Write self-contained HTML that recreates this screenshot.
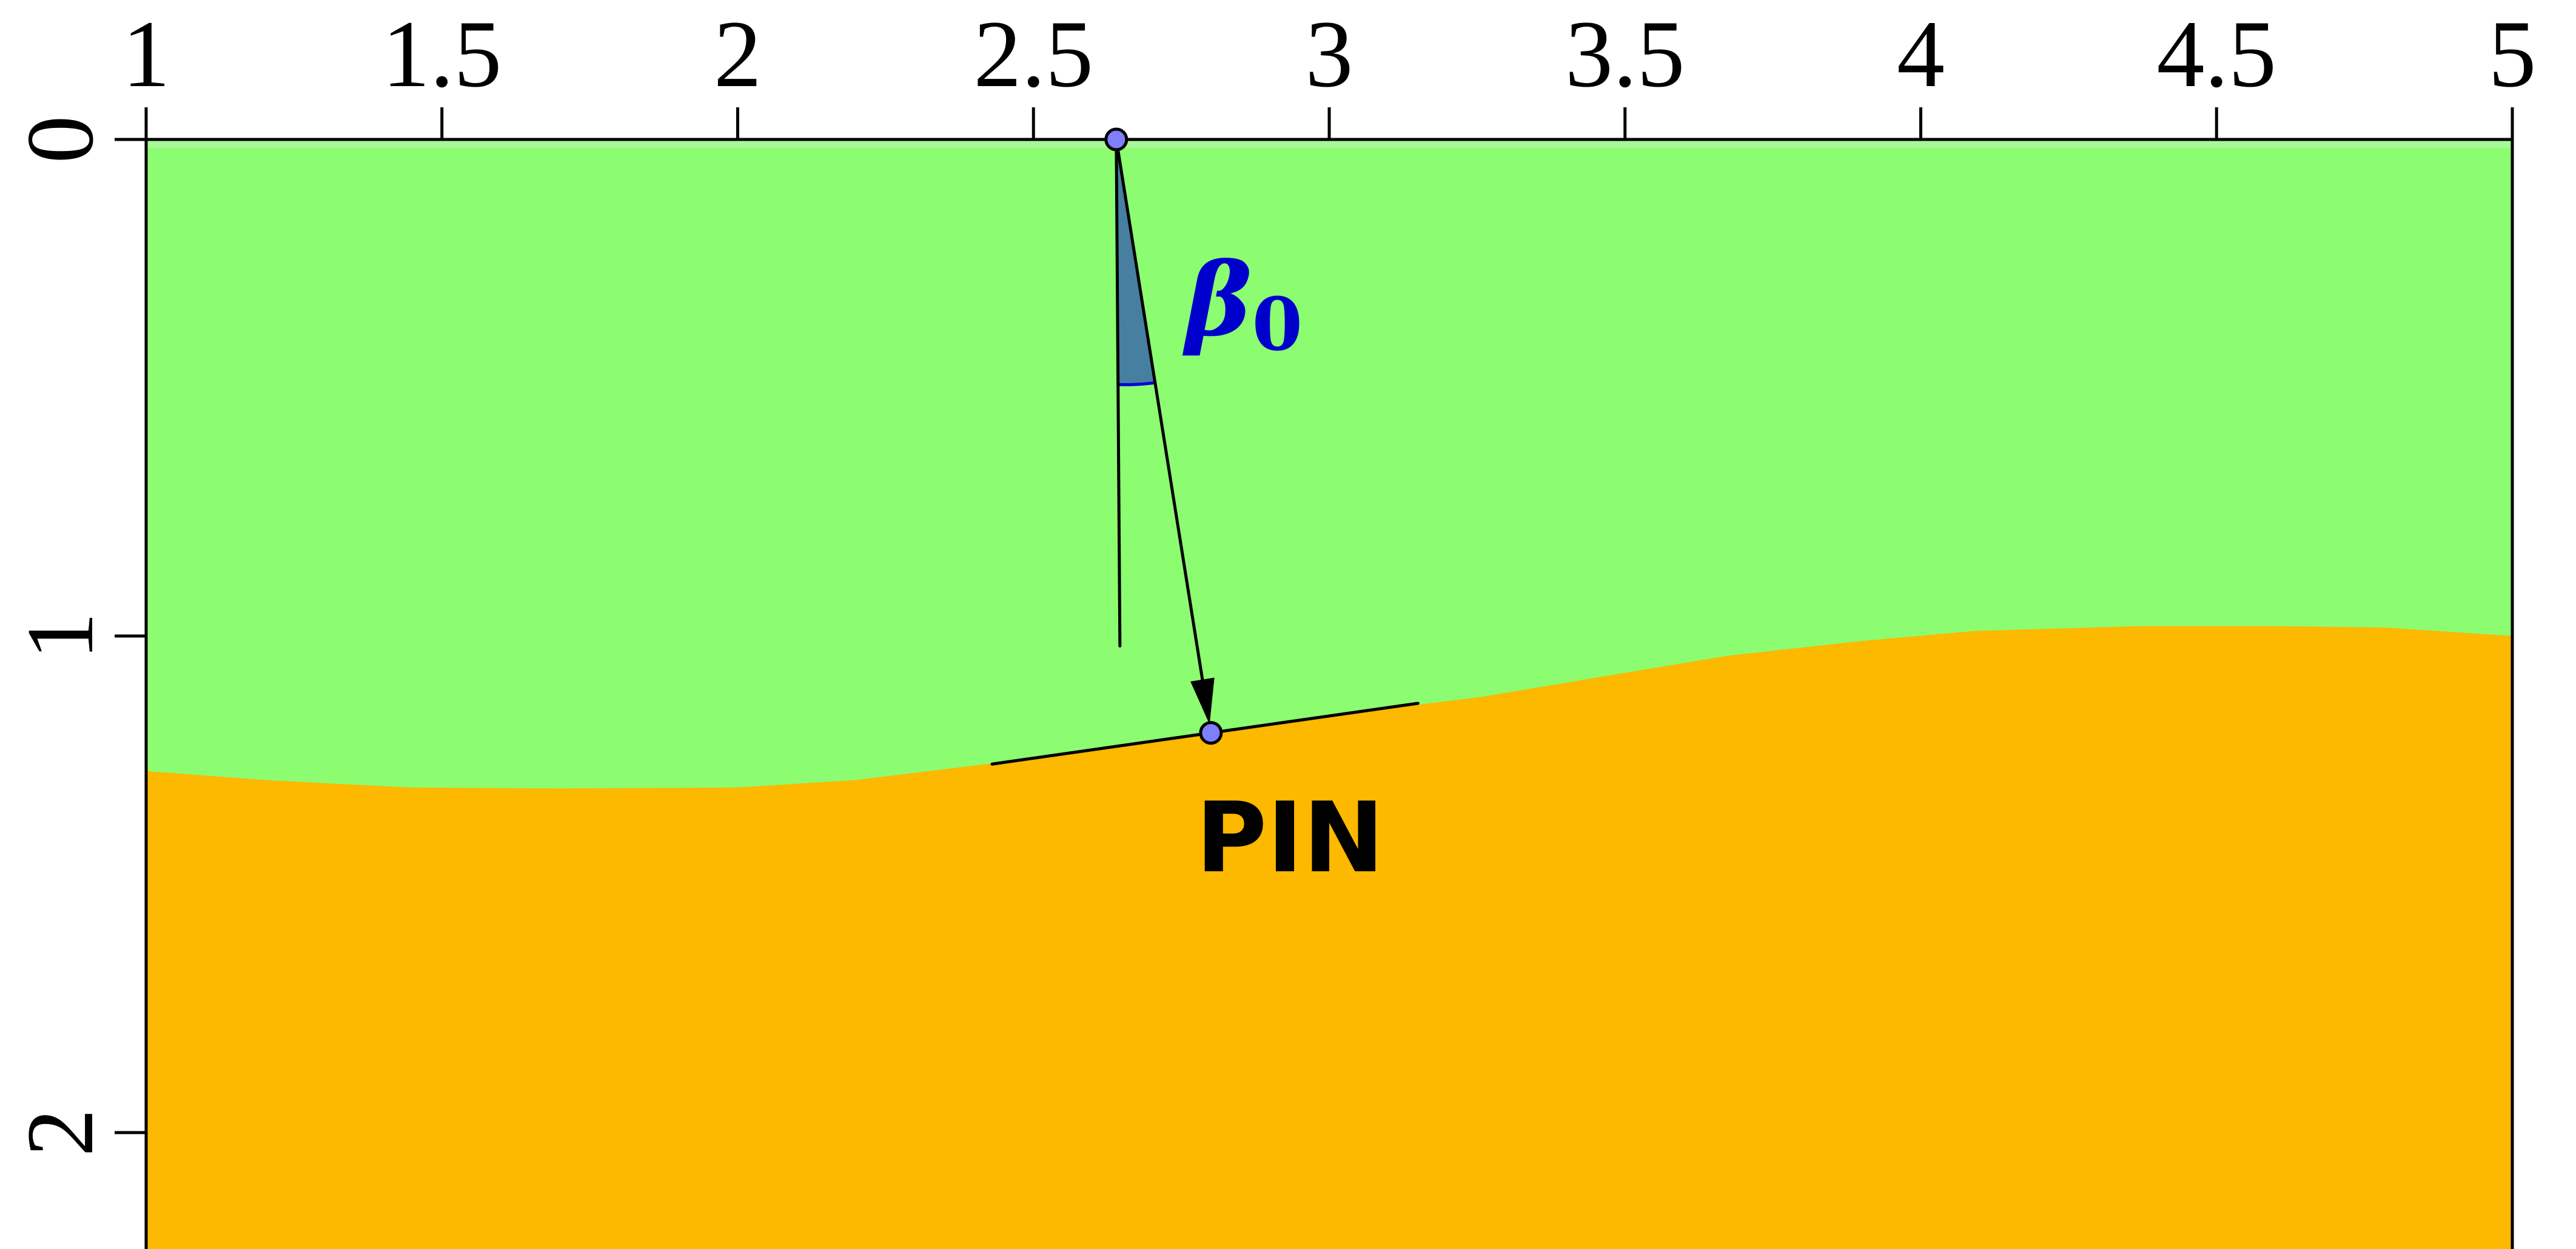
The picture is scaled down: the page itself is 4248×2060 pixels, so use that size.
<!DOCTYPE html>
<html><head><meta charset="utf-8"><style>html,body{margin:0;padding:0;background:#fff;}svg{display:block}</style></head>
<body>
<svg id="chart" xmlns="http://www.w3.org/2000/svg" width="4248" height="2060" viewBox="0 0 4248 2060">
<g id="layers"></g>
<g id="axes"></g>
<g id="marks"></g>
</svg>
<script>
const xTicks = [1, 1.5, 2, 2.5, 3, 3.5, 4, 4.5, 5];
const xTickLabels = ["1", "1.5", "2", "2.5", "3", "3.5", "4", "4.5", "5"];
const yTicks = [0, 1, 2];
const yTickLabels = ["0", "1", "2"];
const boundaryX = [1, 1.2, 1.445, 1.7, 2.0, 2.2, 2.42, 2.6, 2.81, 3.0, 3.255, 3.47, 3.672, 3.9, 4.09, 4.37, 4.6, 4.786, 5];
const boundaryY = [1.272, 1.29, 1.305, 1.307, 1.305, 1.29, 1.258, 1.23, 1.195, 1.16, 1.123, 1.08, 1.04, 1.01, 0.99, 0.98, 0.98, 0.983, 1.0];
const sourcePt = [2.64, 0.0];
const pinPt = [2.80, 1.195];
const vertEndY = [1.02];
const pinLineX = [2.43, 3.15];
const pinLineSlope = [-0.17];
const arcDepth = [0.49];

const X0 = 241, X1 = 4143, Y0 = 230, YU = 819;
const sx = v => X0 + (v - 1) * (X1 - X0) / 4;
const sy = v => Y0 + v * YU;
const NS = "http://www.w3.org/2000/svg";
function mk(tag, attrs, parent) {
  const e = document.createElementNS(NS, tag);
  for (const k in attrs) e.setAttribute(k, attrs[k]);
  parent.appendChild(e);
  return e;
}
const layers = document.getElementById('layers');
const axes = document.getElementById('axes');
const marks = document.getElementById('marks');
const bottom = 2060;

// green layer
const g = mk('rect', {x: X0, y: Y0, width: X1 - X0, height: bottom - Y0, fill: '#8cfd70'}, layers);


// orange layer
let d = '';
boundaryX.forEach((v, i) => { d += (i ? 'L' : 'M') + sx(v) + ' ' + sy(boundaryY[i]) + ' '; });
d += 'L' + X1 + ' ' + bottom + ' L' + X0 + ' ' + bottom + ' Z';
const o = mk('path', {d: d, fill: '#fdb800'}, layers);


const hl = mk('rect', {x: X0, y: Y0, width: X1 - X0, height: 14, fill: '#a8f898'}, layers);



// frame
const fr = mk('path', {d: `M${X0} ${bottom} L${X0} ${Y0} L${X1} ${Y0} L${X1} ${bottom}`, fill: 'none', stroke: '#000', 'stroke-width': 5}, axes);



xTicks.forEach((v, i) => {
  const t = mk('line', {x1: sx(v), x2: sx(v), y1: Y0 - 53, y2: Y0, stroke: '#000', 'stroke-width': 5}, axes);
  
  
  const l = mk('text', {x: sx(v), y: 142, 'text-anchor': 'middle', 'font-family': '"Liberation Serif", serif', 'font-size': 158, fill: '#000'}, axes);
  
  
  l.textContent = xTickLabels[i];
});
yTicks.forEach((v, i) => {
  const t = mk('line', {x1: X0 - 52, x2: X0, y1: sy(v), y2: sy(v), stroke: '#000', 'stroke-width': 5}, axes);
  
  
  const l = mk('text', {x: 0, y: 0, transform: `translate(152 ${sy(v)}) rotate(-90)`, 'text-anchor': 'middle', 'font-family': '"Liberation Serif", serif', 'font-size': 158, fill: '#000'}, axes);
  
  
  l.textContent = yTickLabels[i];
});

// geometry
const S = [sx(sourcePt[0]), sy(sourcePt[1])];
const P = [sx(pinPt[0]), sy(pinPt[1])];
const dirx = (P[0] - S[0]) / (P[1] - S[1]);
const ay = sy(arcDepth[0]);
const ax = S[0] + dirx * (ay - S[1]);
const wedge = mk('path', {d: `M${S[0]} ${S[1]} L${S[0] + 3} ${ay + 3} Q${(S[0] + ax) / 2} ${ay + 4} ${ax} ${ay} Z`, fill: '#467fa0'}, marks);


const arc = mk('path', {d: `M${S[0] + 3} ${ay + 3} Q${(S[0] + ax) / 2} ${ay + 4} ${ax} ${ay}`, fill: 'none', stroke: '#0000dd', 'stroke-width': 5}, marks);


const vl = mk('line', {x1: S[0], y1: S[1], x2: S[0] + 6, y2: sy(vertEndY[0]), stroke: '#000', 'stroke-width': 5, 'stroke-linecap': 'round'}, marks);


// arrow
const ahLen = 75;
const L = Math.hypot(P[0] - S[0], P[1] - S[1]);
const ux = (P[0] - S[0]) / L, uy = (P[1] - S[1]) / L;
const tip = [P[0] - ux * 14, P[1] - uy * 14];
const base = [tip[0] - ux * ahLen, tip[1] - uy * ahLen];
const al = mk('line', {x1: S[0], y1: S[1], x2: base[0], y2: base[1], stroke: '#000', 'stroke-width': 5}, marks);


const ah = mk('polygon', {points: `${tip[0]},${tip[1]} ${base[0] - uy * 20},${base[1] + ux * 20} ${base[0] + uy * 20},${base[1] - ux * 20}`, fill: '#000'}, marks);


// pin tangent line
const y1 = pinPt[1] + (pinLineX[0] - pinPt[0]) * pinLineSlope[0];
const y2 = pinPt[1] + (pinLineX[1] - pinPt[0]) * pinLineSlope[0];
const pl = mk('line', {x1: sx(pinLineX[0]), y1: sy(y1), x2: sx(pinLineX[1]), y2: sy(y2), stroke: '#000', 'stroke-width': 5, 'stroke-linecap': 'round'}, marks);


// points
const sp = mk('ellipse', {cx: S[0], cy: S[1], rx: 17, ry: 17, fill: '#7f7ffb', stroke: '#000', 'stroke-width': 5}, marks);


const pp = mk('ellipse', {cx: P[0], cy: P[1], rx: 17, ry: 17, fill: '#7f7ffb', stroke: '#000', 'stroke-width': 5}, marks);


// labels
const bt = mk('text', {x: 1955, y: 552, 'font-family': '"DejaVu Serif", serif', 'font-style': 'italic', 'font-weight': 'bold', 'font-size': 165, fill: '#0000cc'}, marks);


bt.innerHTML = 'β<tspan font-style="normal" font-size="120" dy="25">0</tspan>';
const pin = mk('text', {x: 1972, y: 1437, 'font-family': '"DejaVu Sans", sans-serif', 'font-weight': 'bold', 'font-size': 160, fill: '#000'}, marks);


pin.textContent = 'PIN';
</script>
</body></html>
